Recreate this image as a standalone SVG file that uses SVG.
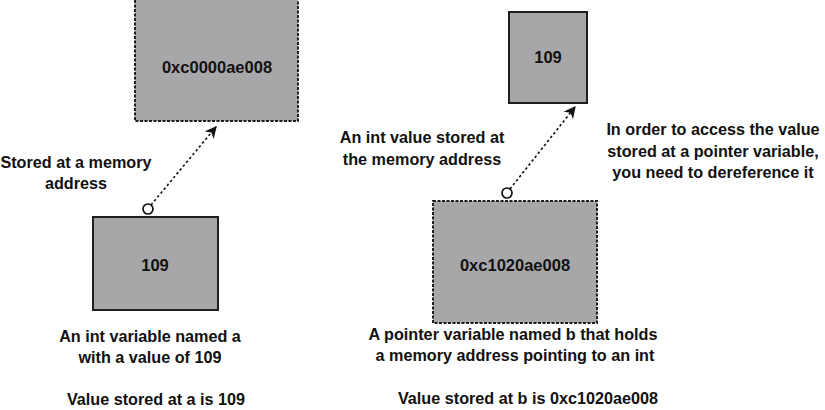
<svg xmlns="http://www.w3.org/2000/svg" width="825" height="410" viewBox="0 0 825 410">
<defs>
<style>
.box{fill:#a7a7aa;stroke:#1f1f1f;stroke-width:2}
.dbox{fill:#a7a7aa;stroke:#1f1f1f;stroke-width:2;stroke-dasharray:3 1.5}
.t{font-family:"Liberation Sans",Arial,sans-serif;font-weight:bold;font-size:16.2px;fill:#111;text-anchor:middle}
.bt{font-family:"Liberation Sans",Arial,sans-serif;font-weight:bold;font-size:16.5px;fill:#111;text-anchor:middle}
.conn{fill:none;stroke:#111;stroke-width:1.6;stroke-dasharray:2.5 2.5}
.dot{fill:#fff;stroke:#111;stroke-width:1.7}
</style>
<marker id="arr" viewBox="0 0 10 10" refX="9" refY="5" markerWidth="7.5" markerHeight="7.5" orient="auto" markerUnits="strokeWidth">
<path d="M0,0 L10,5 L0,10 L3,5 z" fill="#111"/>
</marker>
</defs>
<rect width="825" height="410" fill="#fff"/>
<g id="addr-a">
<rect class="dbox" x="135" y="-2" width="163" height="123"/>
<text class="bt" x="217" y="73">0xc0000ae008</text>
</g>
<g id="var-a">
<rect class="box" x="93" y="217" width="125" height="93"/>
<text class="bt" x="155" y="271">109</text>
</g>
<g id="val-b">
<rect class="box" x="509" y="12" width="78" height="91"/>
<text class="bt" x="548" y="63">109</text>
</g>
<g id="var-b">
<rect class="dbox" x="433" y="201" width="164" height="122"/>
<text class="bt" x="515" y="271">0xc1020ae008</text>
</g>
<g id="connectors">
<path class="conn" d="M151,205 L216,127" marker-end="url(#arr)"/>
<circle class="dot" cx="148" cy="209" r="5"/>
<path class="conn" d="M510,189 L575,107" marker-end="url(#arr)"/>
<circle class="dot" cx="507" cy="193" r="5"/>
</g>
<g id="labels">
<text class="t" x="76" y="168">Stored at a memory</text>
<text class="t" x="76" y="189">address</text>
<text class="t" x="422" y="143">An int value stored at</text>
<text class="t" x="422" y="165">the memory address</text>
<text class="t" x="713" y="135">In order to access the value</text>
<text class="t" x="713" y="157">stored at a pointer variable,</text>
<text class="t" x="713" y="178">you need to dereference it</text>
<text class="t" x="150" y="342">An int variable named a</text>
<text class="t" x="150" y="363">with a value of 109</text>
<text class="t" x="156" y="405">Value stored at a is 109</text>
<text class="t" x="513" y="340">A pointer variable named b that holds</text>
<text class="t" x="515" y="361">a memory address pointing to an int</text>
<text class="t" x="528" y="404">Value stored at b is 0xc1020ae008</text>
</g>
</svg>
